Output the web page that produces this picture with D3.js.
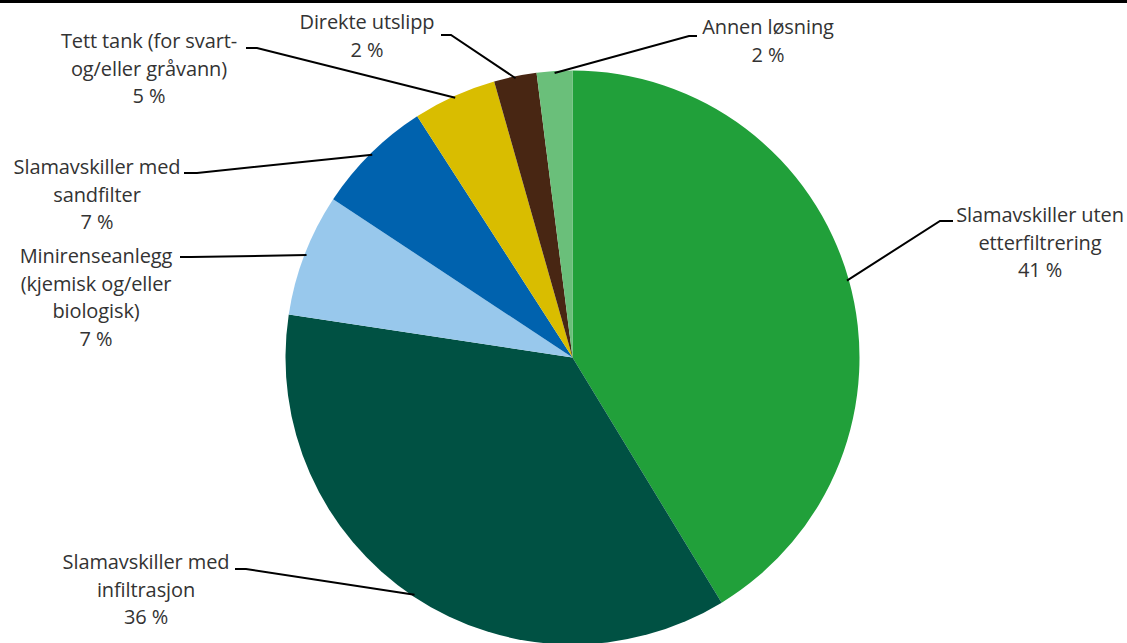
<!DOCTYPE html>
<html><head><meta charset="utf-8">
<script src="https://cdn.jsdelivr.net/npm/d3@7"></script>
<style>
html,body{margin:0;padding:0;background:#fff;}
svg{display:block;}
</style></head>
<body>
<svg id="c" width="1127" height="643"></svg>
<script>
// Data
const categories = [
  "Slamavskiller uten etterfiltrering",
  "Slamavskiller med infiltrasjon",
  "Minirenseanlegg (kjemisk og/eller biologisk)",
  "Slamavskiller med sandfilter",
  "Tett tank (for svart- og/eller gråvann)",
  "Direkte utslipp",
  "Annen løsning"
];
const values = [41.3, 36.1, 6.9, 6.6, 4.7, 2.4, 2.0];
const percentLabels = ["41 %", "36 %", "7 %", "7 %", "5 %", "2 %", "2 %"];
const labelLines = [
  ["Slamavskiller uten", "etterfiltrering"],
  ["Slamavskiller med", "infiltrasjon"],
  ["Minirenseanlegg", "(kjemisk og/eller", "biologisk)"],
  ["Slamavskiller med", "sandfilter"],
  ["Tett tank (for svart-", "og/eller gråvann)"],
  ["Direkte utslipp"],
  ["Annen løsning"]
];
const colors = ["#21a03a", "#005143", "#98c8ec", "#0062ae", "#d9bd00", "#482613", "#6abf7a"];

// Label layout (centre x, first baseline y, stub start x, stub end x, stub y)
const labelLayout = [
  {cx: 1040, y: 222, sx1: 953, sx2: 940, sy: 221},
  {cx: 146, y: 569, sx1: 235, sx2: 246, sy: 569},
  {cx: 96, y: 263, sx1: 180, sx2: 191, sy: 257},
  {cx: 97, y: 174, sx1: 184, sx2: 197, sy: 173},
  {cx: 149, y: 48, sx1: 246, sx2: 257, sy: 48},
  {cx: 367, y: 29, sx1: 441, sx2: 451, sy: 35},
  {cx: 768, y: 34, sx1: 697, sx2: 689, sy: 36}
];

const svg = d3.select("#c");
const W = 1127, H = 643;
const cx = 572.5, cy = 357.5, R = 287;
const lineH = 27.5;

// Top border line
svg.append("line").attr("x1", 0).attr("x2", W).attr("y1", 1.5).attr("y2", 1.5)
  .attr("stroke", "#000").attr("stroke-width", 3);

const data = categories.map((c, i) => ({cat: c, value: values[i], i}));
const pie = d3.pie().value(d => d.value).sort(null);
const arcs = pie(data);
const arc = d3.arc().innerRadius(0).outerRadius(R);
const edgeArc = d3.arc().innerRadius(R - 2).outerRadius(R - 2);

const g = svg.append("g").attr("transform", `translate(${cx},${cy})`);
g.selectAll("path.slice").data(arcs).join("path")
  .attr("class", "slice")
  .attr("d", arc)
  .attr("fill", d => colors[d.data.i]);

// Leader lines
arcs.forEach(a => {
  const L = labelLayout[a.data.i];
  const [ex, ey] = edgeArc.centroid(a);
  const pts = [[L.sx1, L.sy], [L.sx2, L.sy], [ex + cx, ey + cy]];
  svg.append("path")
    .attr("d", d3.line()(pts))
    .attr("fill", "none")
    .attr("stroke", "#000")
    .attr("stroke-width", 2);
});

// Labels
arcs.forEach(a => {
  const i = a.data.i;
  const L = labelLayout[i];
  const lines = labelLines[i].concat([percentLabels[i]]);
  const t = svg.append("text")
    .attr("text-anchor", "middle")
    .attr("font-family", "'Open Sans', 'Noto Sans', sans-serif")
    .attr("font-size", 20)
    .attr("letter-spacing", -0.1)
    .attr("fill", "#333");
  lines.forEach((ln, k) => {
    t.append("tspan").attr("x", L.cx).attr("y", L.y + k * lineH).text(ln);
  });
});
</script>
</body></html>
